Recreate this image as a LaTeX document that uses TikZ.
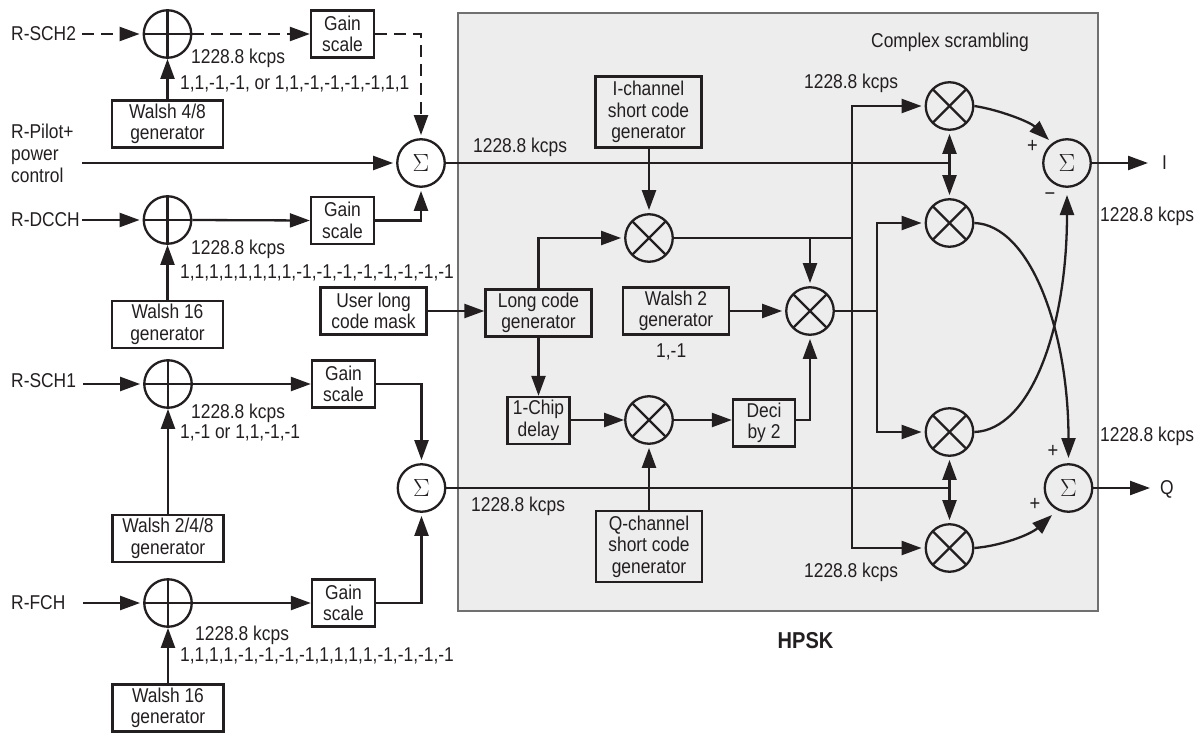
\documentclass[tikz,border=0pt]{standalone}
\usepackage{fontspec}
\setmainfont{Liberation Sans}[FakeStretch=0.87]
\usetikzlibrary{arrows.meta}
\definecolor{ink}{HTML}{231F20}
\definecolor{panel}{HTML}{EDEDED}
\definecolor{panelline}{HTML}{707070}
\tikzset{
  base/.style={line width=2.3pt,draw=ink},
  arr/.style={base,-{Triangle[length=20pt,width=14pt]}},
  arrc/.style={arr,shorten >=3pt},
  dashline/.style={dash pattern=on 12pt off 7pt},
  boxed/.style={base,rectangle,inner sep=0pt,align=center,text=ink,font=\fontsize{20}{21.5}\selectfont},
  wide/.style={boxed,minimum width=111pt,minimum height=47pt},
  wideb/.style={boxed,minimum width=106pt,minimum height=47pt},
  narrow/.style={boxed,minimum width=63pt,minimum height=47pt},
  tall/.style={boxed,minimum width=106pt,minimum height=71pt},
  circ/.style={base,circle,minimum size=47.5pt,inner sep=0pt},
  adder/.style={circ,path picture={
    \draw[base] (path picture bounding box.north)--(path picture bounding box.south);
    \draw[base] (path picture bounding box.west)--(path picture bounding box.east);}},
  mixer/.style={circ,path picture={
    \draw[base] (path picture bounding box.north west)--(path picture bounding box.south east);
    \draw[base] (path picture bounding box.north east)--(path picture bounding box.south west);}},
  summer/.style={circ,text=ink,font=\fontsize{25}{25}\selectfont},
  lab/.style={inner sep=0pt,anchor=west,text=ink,font=\fontsize{20}{22}\selectfont,align=left},
  sign/.style={inner sep=0pt,text=ink,font=\fontsize{21}{21}\selectfont}
}
\begin{document}
\begin{tikzpicture}[x=1pt,y=-1pt]
\useasboundingbox (0,0) rectangle (1199,733);
\node[draw=panelline,fill=panel,line width=1.2pt,minimum width=640pt,minimum height=598pt,inner sep=0pt] (panelbox) at (778,312) {};

% left column
\node[adder] (p1) at (167.5,34) {};
\node[adder] (p2) at (167.5,220) {};
\node[adder] (p3) at (168,384) {};
\node[adder] (p4) at (168,603) {};
\node[narrow] (g1) at (342.5,34) {Gain\\scale};
\node[narrow] (g2) at (342.5,220.5) {Gain\\scale};
\node[narrow] (g3) at (343.5,384) {Gain\\scale};
\node[narrow] (g4) at (343.5,603) {Gain\\scale};
\node[wide] (w1) at (167.5,124) {Walsh 4/8\\generator};
\node[wide] (w2) at (167.5,324.5) {Walsh 16\\generator};
\node[wide] (w3) at (168,538.5) {Walsh 2/4/8\\generator};
\node[wide] (w4) at (168,708) {Walsh 16\\generator};
\node[summer] (s1) at (421,163) {$\Sigma$};
\node[summer] (s2) at (421.5,488) {$\Sigma$};
\node[wideb] (um) at (373.5,311) {User long\\code mask};

% inner blocks
\node[wideb] (lc) at (538.5,313) {Long code\\generator};
\node[wideb] (w5) at (676,311) {Walsh 2\\generator};
\node[boxed,minimum width=62pt,minimum height=47pt] (cd) at (538.5,420.5) {1-Chip\\delay};
\node[boxed,minimum width=62pt,minimum height=47pt] (dc) at (764,423) {Deci\\by 2};
\node[tall] (ic) at (648.5,112) {I-channel\\short code\\generator};
\node[tall] (qc) at (649,546.5) {Q-channel\\short code\\generator};
\node[mixer] (mc) at (649,238) {};
\node[mixer] (mr) at (810,311) {};
\node[mixer] (ml) at (649,420) {};
\node[mixer] (m1) at (949.5,106) {};
\node[mixer] (m2) at (949.5,223) {};
\node[mixer] (m3) at (949.5,432) {};
\node[mixer] (m4) at (949.5,548) {};
\node[summer] (si) at (1067,163) {$\Sigma$};
\node[summer] (sq) at (1068.5,488) {$\Sigma$};

% free ends and junctions
\coordinate (inS2) at (82,34);
\coordinate (inP) at (82,163);
\coordinate (inD) at (82,220);
\coordinate (inS1) at (83,384);
\coordinate (inF) at (83,603);
\coordinate (outI) at (1148,163);
\coordinate (outQ) at (1150,488);
\coordinate (jI) at (949.5,163);
\coordinate (jQ) at (949.5,488);
\coordinate (busa) at (852,238);
\coordinate (busb) at (810,238);
\coordinate (busc) at (877,311);
\coordinate (tipA) at (1049,140);
\coordinate (tipB) at (1068.5,458);
\coordinate (tipC) at (1067,195);
\coordinate (tipD) at (1052,515);

% left connectors
\draw[arrc,dashline] (inS2) -- (p1.west);
\draw[arr,dashline] (p1.east) -- (g1.west);
\draw[arrc,dashline] (g1.east) -| (s1.north);
\draw[arr] (w1.north) -- (p1.south);
\draw[arrc] (inP) -- (s1.west);
\draw[arrc] (inD) -- (p2.west);
\draw[arr] (p2.east) -- (g2.west);
\draw[arrc] (g2.east) -| (s1.south);
\draw[arr] (w2.north) -- (p2.south);
\draw[arrc] (inS1) -- (p3.west);
\draw[arr] (p3.east) -- (g3.west);
\draw[arrc] (g3.east) -| (s2.north);
\draw[arr] (w3.north) -- (p3.south);
\draw[arrc] (inF) -- (p4.west);
\draw[arr] (p4.east) -- (g4.west);
\draw[arrc] (g4.east) -| (s2.south);
\draw[arr] (w4.north) -- (p4.south);
\draw[arr] (um.east) -- (lc.west |- um.east);

% inner connectors
\draw[base] (s1.east) -- (jI);
\draw[base] (s2.east) -- (jQ);
\draw[arrc] (jI) -- (m1.south);
\draw[arrc] (jI) -- (m2.north);
\draw[arrc] (jQ) -- (m3.south);
\draw[arrc] (jQ) -- (m4.north);
\draw[arrc] (ic.south -| mc.north) -- (mc.north);
\draw[arrc] (lc.north) |- (mc.west);
\draw[arr] (lc.south) -- (cd.north);
\draw[base] (mc.east) -- (busa);
\draw[arrc] (busb) -- (mr.north);
\draw[arrc] (busa) |- (m1.west);
\draw[arrc] (busa) |- (m4.west);
\draw[arrc] (w5.east) -- (mr.west);
\draw[base] (mr.east) -- (busc);
\draw[arrc] (busc) |- (m2.west);
\draw[arrc] (busc) |- (m3.west);
\draw[arr] (cd.east |- ml.west) -- (ml.west);
\draw[arr] (ml.east) -- (dc.west |- ml.east);
\draw[arrc] (dc.east |- ml.east) -| (mr.south);
\draw[arrc] (qc.north -| ml.south) -- (ml.south);
\draw[arr] (m1.east) .. controls (1000,110) and (1030,122) .. (tipA);
\draw[arr] (m2.east) .. controls (1030,225) and (1068.5,330) .. (tipB);
\draw[arr] (m3.east) .. controls (1030,430) and (1067,330) .. (tipC);
\draw[arr] (m4.east) .. controls (1000,546) and (1030,535) .. (tipD);
\draw[arr] (si.east) -- (outI);
\draw[arr] (sq.east) -- (outQ);

% labels
\node[lab] (tS2) at (11,34) {R-SCH2};
\node[lab] (tP) at (11,153) {R-Pilot+\\power\\control};
\node[lab] (tD) at (11,220) {R-DCCH};
\node[lab] (tS1) at (11,381) {R-SCH1};
\node[lab] (tF) at (11,603) {R-FCH};
\node[lab] (r1) at (191,58) {1228.8 kcps};
\node[lab] (c1) at (180,84) {1,1,-1,-1, or 1,1,-1,-1,-1,-1,1,1};
\node[lab] (r2) at (191,249) {1228.8 kcps};
\node[lab] (c2) at (180,273) {1,1,1,1,1,1,1,1,-1,-1,-1,-1,-1,-1,-1,-1};
\node[lab] (r3) at (191,413) {1228.8 kcps};
\node[lab] (c3) at (180,433) {1,-1 or 1,1,-1,-1};
\node[lab] (r4) at (195,635) {1228.8 kcps};
\node[lab] (c4) at (180,656) {1,1,1,1,-1,-1,-1,-1,1,1,1,1,-1,-1,-1,-1};
\node[lab] (r5) at (473,147) {1228.8 kcps};
\node[lab] (r6) at (471,506) {1228.8 kcps};
\node[lab] (r7) at (804,83) {1228.8 kcps};
\node[lab] (r8) at (804,572) {1228.8 kcps};
\node[lab] (r9) at (1100,216) {1228.8 kcps};
\node[lab] (r10) at (1100,436) {1228.8 kcps};
\node[lab] (cw) at (656,352) {1,-1};
\node[lab] (cs) at (871,42) {Complex scrambling};
\node[lab] (tI) at (1162,163) {I};
\node[lab] (tQ) at (1160,489) {Q};
\node[sign] (pa) at (1032.5,146) {+};
\node[sign] (mi) at (1050,197) {\textminus};
\node[sign] (pb) at (1053,451) {+};
\node[sign] (pc) at (1035,504) {+};
\node[inner sep=0pt,text=ink,font=\fontsize{23}{23}\selectfont\bfseries] (hp) at (805.5,641) {HPSK};
\end{tikzpicture}
\end{document}
